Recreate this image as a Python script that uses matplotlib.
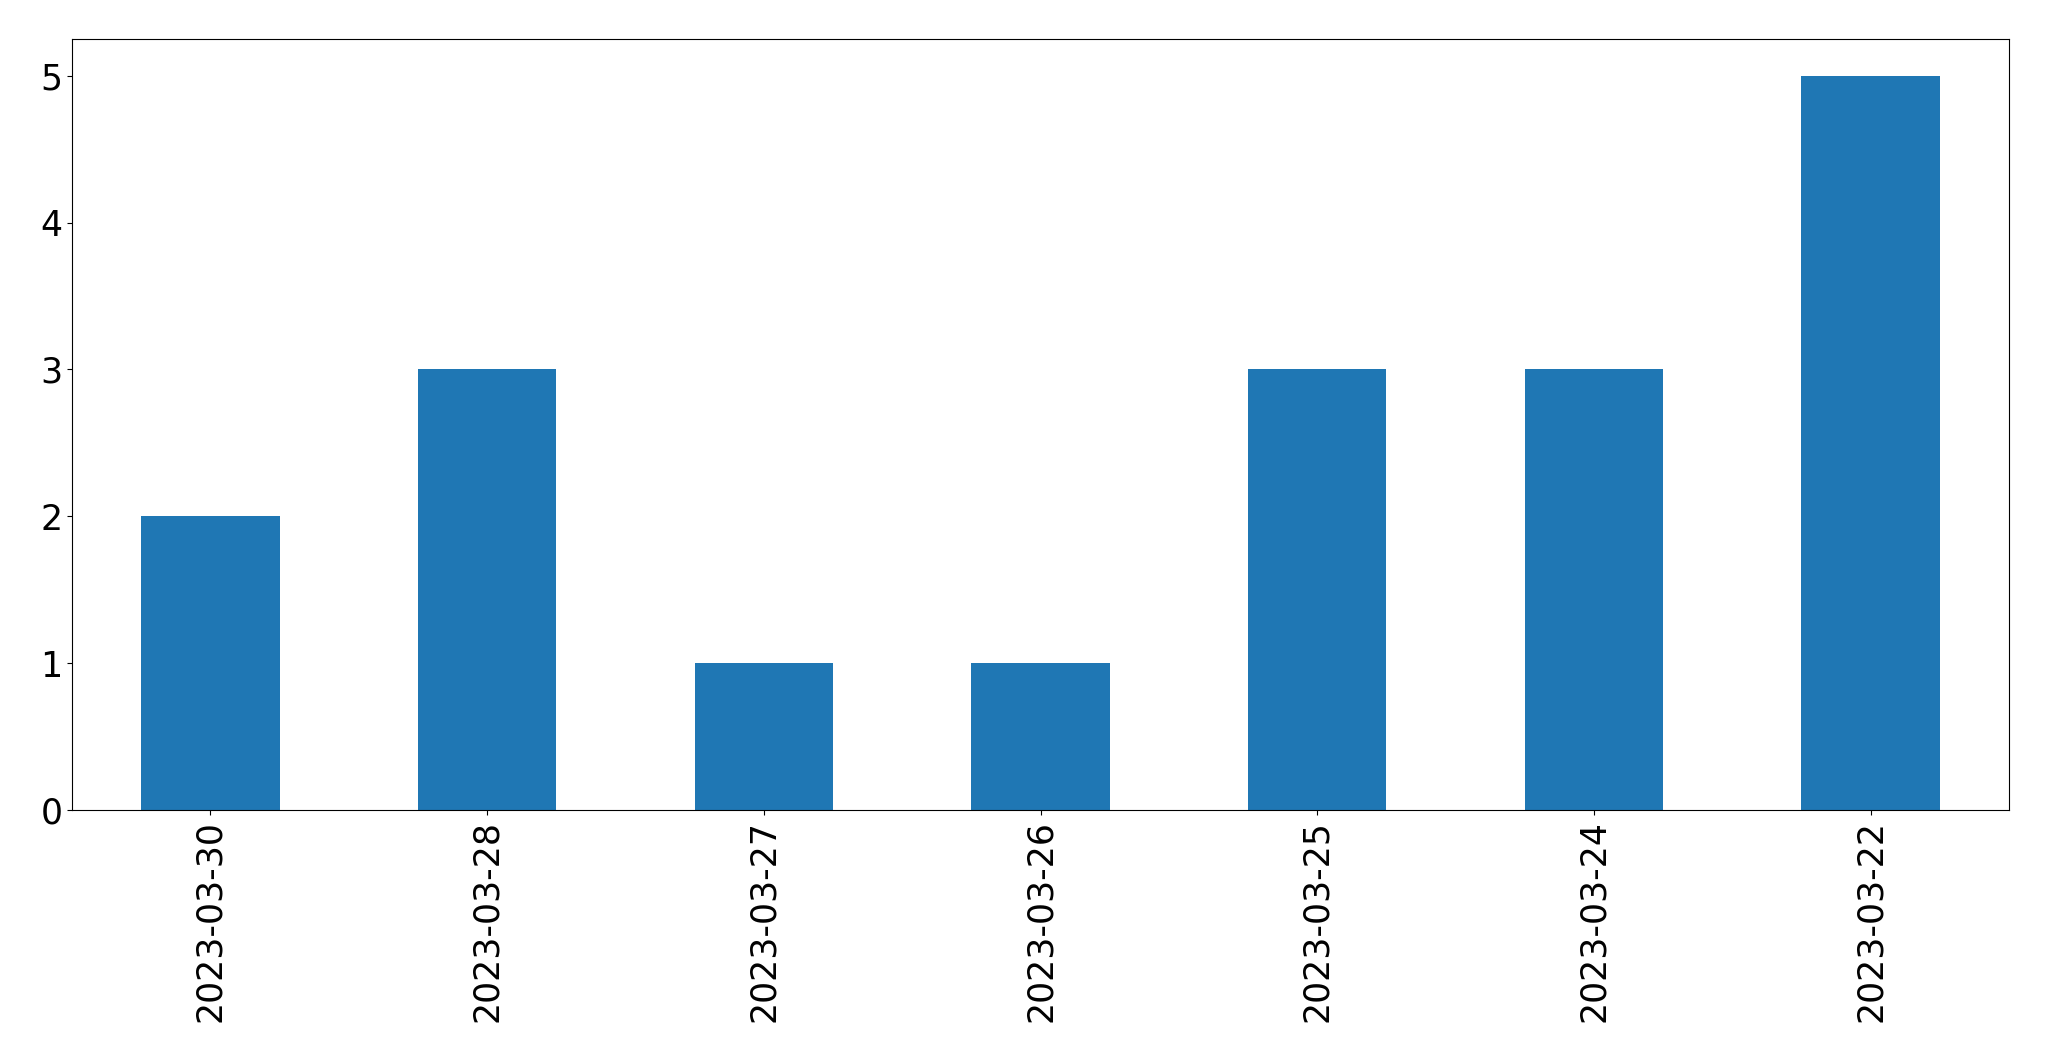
import matplotlib
matplotlib.use("Agg")
import matplotlib.pyplot as plt

dates = ["2023-03-30", "2023-03-28", "2023-03-27", "2023-03-26",
         "2023-03-25", "2023-03-24", "2023-03-22"]
counts = [2, 3, 1, 1, 3, 3, 5]

fig = plt.figure(figsize=(20.49, 10.61), dpi=100)
ax = fig.add_axes([72 / 2049, 1 - 810 / 1061, (2009 - 72) / 2049, (810 - 39) / 1061])
x = list(range(len(dates)))
ax.bar(x, counts, width=0.5, color="#1f77b4")
ax.set_xlim(-0.5, len(dates) - 0.5)
ax.set_ylim(0, 5.25)
ax.set_xticks(x)
ax.set_xticklabels(dates, rotation=90)
ax.tick_params(labelsize=25)
fig.savefig("out.png", dpi=100)
